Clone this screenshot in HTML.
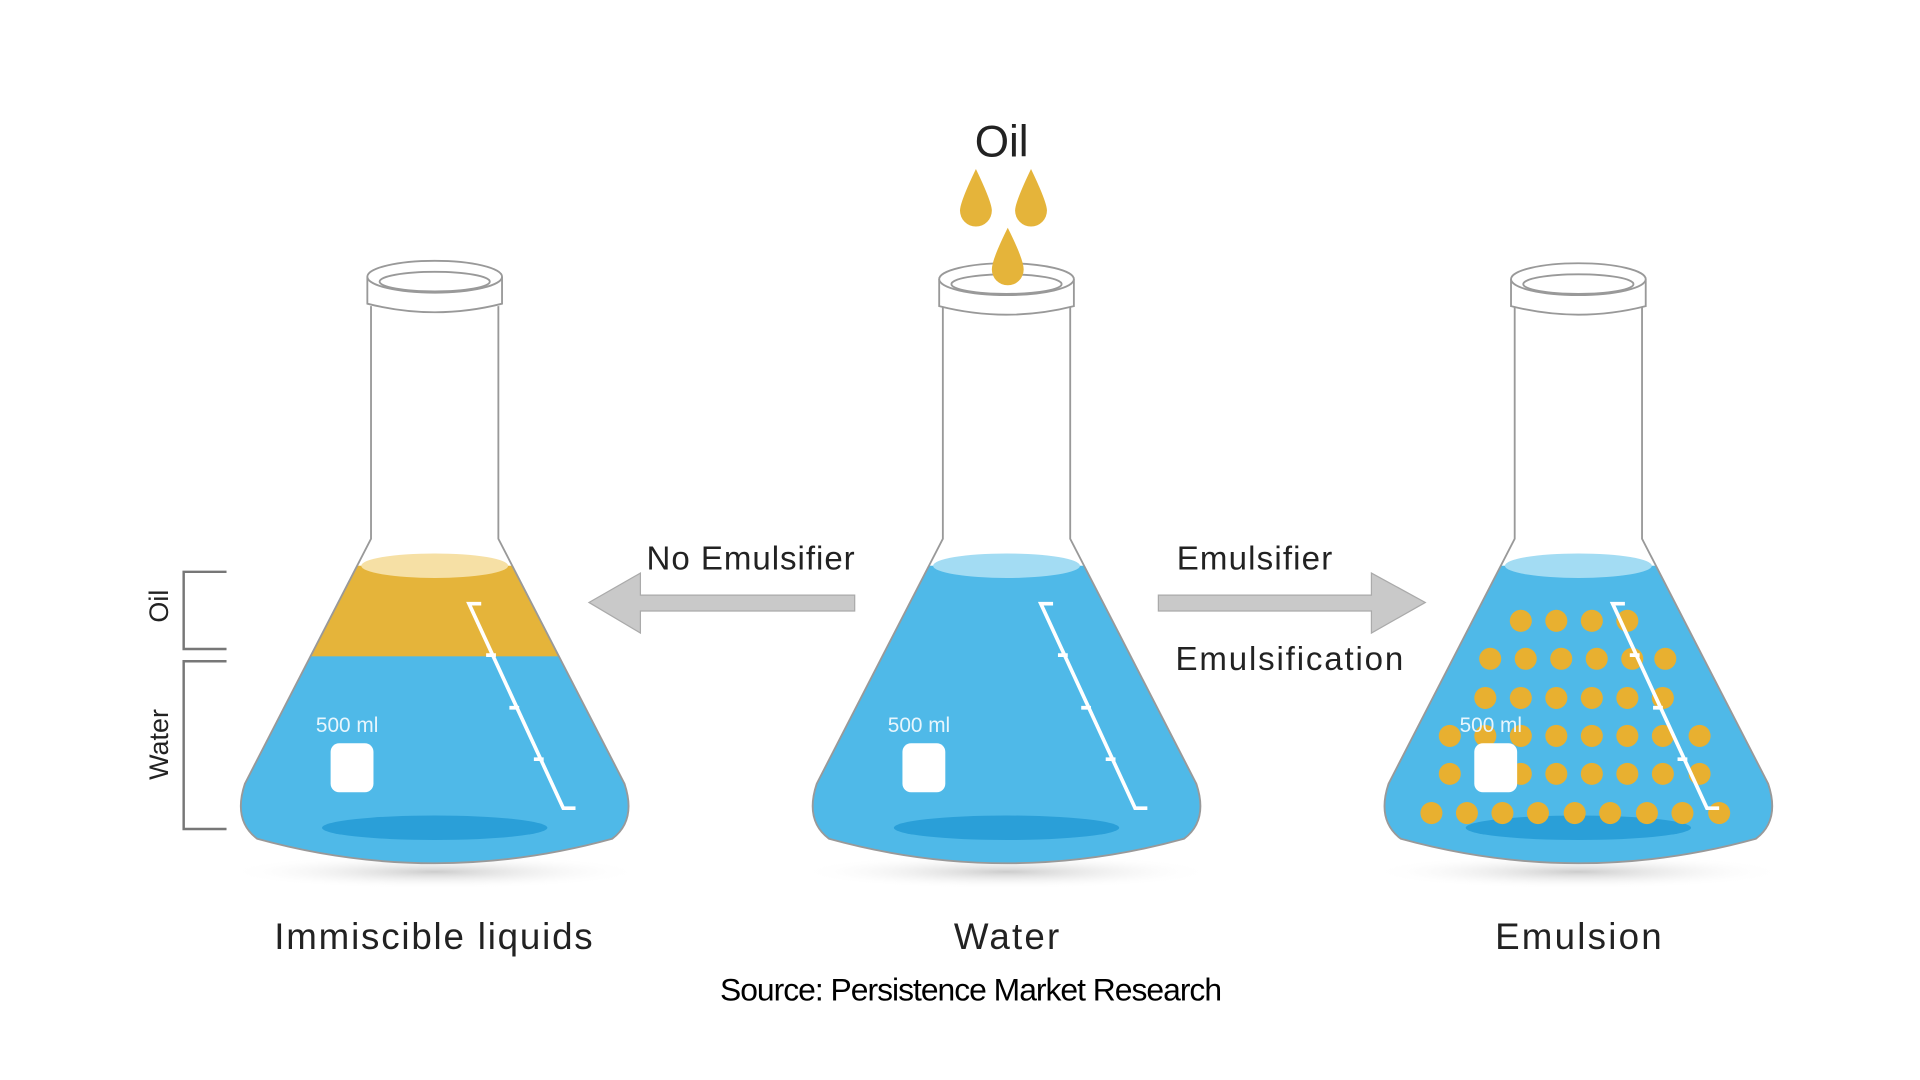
<!DOCTYPE html>
<html><head><meta charset="utf-8"><style>
html,body{margin:0;padding:0;background:#fff;width:1920px;height:1080px;overflow:hidden}
svg{display:block}
text{font-family:"Liberation Sans",sans-serif;fill:#222}
</style></head><body>
<svg width="1920" height="1080" viewBox="0 0 1568 882" preserveAspectRatio="none">
<defs>
<radialGradient id="sh" cx="50%" cy="50%" r="50%"><stop offset="0" stop-color="#ccc"/><stop offset="1" stop-color="#fff" stop-opacity="0"/></radialGradient>
<clipPath id="c1"><path d="M303,440 L200,640 Q190,670 210,685 Q355,725 500,685 Q520,670 510,640 L407,440 Z"/></clipPath>
<clipPath id="c2"><path d="M770,440 L667,640 Q657,670 677,685 Q822,725 967,685 Q987,670 977,640 L874,440 Z"/></clipPath>
<clipPath id="c3"><path d="M1237,440 L1134,640 Q1124,670 1144,685 Q1289,725 1434,685 Q1454,670 1444,640 L1341,440 Z"/></clipPath>
</defs>

<ellipse cx="355" cy="712" rx="170" ry="14" fill="url(#sh)"/>
<ellipse cx="822" cy="712" rx="170" ry="14" fill="url(#sh)"/>
<ellipse cx="1289" cy="712" rx="170" ry="14" fill="url(#sh)"/>

<!-- Flask 1 -->
<g clip-path="url(#c1)">
<rect x="150" y="462" width="420" height="75" fill="#e5b43a"/>
<rect x="150" y="536" width="420" height="200" fill="#4fb9e8"/>
<ellipse cx="355" cy="676" rx="92" ry="10" fill="#2a9fd8"/>
</g>
<ellipse cx="355" cy="462" rx="60" ry="10" fill="#f6e0a5"/>
<path d="M303,250 L303,440 L200,640 Q190,670 210,685 Q355,725 500,685 Q520,670 510,640 L407,440 L407,250" fill="none" stroke="#999" stroke-width="1.5"/>
<path d="M300,226 L300,248 Q355,262 410,248 L410,226" fill="#fff" stroke="#999" stroke-width="1.5"/>
<ellipse cx="355" cy="226" rx="55" ry="13" fill="#fff" stroke="#999" stroke-width="1.5"/>
<ellipse cx="355" cy="230" rx="45" ry="8" fill="none" stroke="#999" stroke-width="1.5"/>
<path d="M393,493 L383,493 L460,660 L470,660 M397,535 L405,535 M416,578 L424,578 M436,620 L444,620" fill="none" stroke="#fff" stroke-width="3"/>
<text x="258" y="598" font-size="17" style="fill:#e8f6fd">500 ml</text>
<rect x="270" y="607" width="35" height="40" rx="7" fill="#fff"/>
<path d="M185,467 L150,467 L150,530 L185,530 M185,540 L150,540 L150,677 L185,677" fill="none" stroke="#777" stroke-width="2"/>
<text transform="translate(137,495) rotate(-90)" font-size="22" text-anchor="middle">Oil</text>
<text transform="translate(137,608) rotate(-90)" font-size="22" text-anchor="middle">Water</text>

<!-- Flask 2 -->
<g clip-path="url(#c2)">
<rect x="620" y="462" width="420" height="280" fill="#4fb9e8"/>
<ellipse cx="822" cy="676" rx="92" ry="10" fill="#2a9fd8"/>
</g>
<ellipse cx="822" cy="462" rx="60" ry="10" fill="#a3dcf3"/>
<path d="M770,250 L770,440 L667,640 Q657,670 677,685 Q822,725 967,685 Q987,670 977,640 L874,440 L874,250" fill="none" stroke="#999" stroke-width="1.5"/>
<path d="M767,228 L767,250 Q822,264 877,250 L877,228" fill="#fff" stroke="#999" stroke-width="1.5"/>
<ellipse cx="822" cy="228" rx="55" ry="13" fill="#fff" stroke="#999" stroke-width="1.5"/>
<ellipse cx="822" cy="232" rx="45" ry="8" fill="none" stroke="#999" stroke-width="1.5"/>
<path d="M860,493 L850,493 L927,660 L937,660 M864,535 L872,535 M883,578 L891,578 M903,620 L911,620" fill="none" stroke="#fff" stroke-width="3"/>
<text x="725" y="598" font-size="17" style="fill:#e8f6fd">500 ml</text>
<rect x="737" y="607" width="35" height="40" rx="7" fill="#fff"/>
<g fill="#e5b43a">
<path d="M797,138 Q784,165 784,172 A13,13 0 0 0 810,172 Q810,165 797,138Z"/>
<path d="M842,138 Q829,165 829,172 A13,13 0 0 0 855,172 Q855,165 842,138Z"/>
<path d="M823,186 Q810,212 810,220 A13,13 0 0 0 836,220 Q836,212 823,186Z"/>
</g>
<text x="818" y="128" font-size="36" text-anchor="middle">Oil</text>

<!-- Flask 3 -->
<g clip-path="url(#c3)">
<rect x="1090" y="462" width="420" height="280" fill="#4fb9e8"/>
<ellipse cx="1289" cy="676" rx="92" ry="10" fill="#2a9fd8"/>
</g>
<ellipse cx="1289" cy="462" rx="60" ry="10" fill="#a3dcf3"/>
<path d="M1237,250 L1237,440 L1134,640 Q1124,670 1144,685 Q1289,725 1434,685 Q1454,670 1444,640 L1341,440 L1341,250" fill="none" stroke="#999" stroke-width="1.5"/>
<path d="M1234,228 L1234,250 Q1289,264 1344,250 L1344,228" fill="#fff" stroke="#999" stroke-width="1.5"/>
<ellipse cx="1289" cy="228" rx="55" ry="13" fill="#fff" stroke="#999" stroke-width="1.5"/>
<ellipse cx="1289" cy="232" rx="45" ry="8" fill="none" stroke="#999" stroke-width="1.5"/>
<g fill="#e8b030">
<circle cx="1242" cy="507" r="9"/><circle cx="1271" cy="507" r="9"/><circle cx="1300" cy="507" r="9"/><circle cx="1329" cy="507" r="9"/>
<circle cx="1217" cy="538" r="9"/><circle cx="1246" cy="538" r="9"/><circle cx="1275" cy="538" r="9"/><circle cx="1304" cy="538" r="9"/><circle cx="1333" cy="538" r="9"/><circle cx="1360" cy="538" r="9"/>
<circle cx="1213" cy="570" r="9"/><circle cx="1242" cy="570" r="9"/><circle cx="1271" cy="570" r="9"/><circle cx="1300" cy="570" r="9"/><circle cx="1329" cy="570" r="9"/><circle cx="1358" cy="570" r="9"/>
<circle cx="1184" cy="601" r="9"/><circle cx="1213" cy="601" r="9"/><circle cx="1242" cy="601" r="9"/><circle cx="1271" cy="601" r="9"/><circle cx="1300" cy="601" r="9"/><circle cx="1329" cy="601" r="9"/><circle cx="1358" cy="601" r="9"/><circle cx="1388" cy="601" r="9"/>
<circle cx="1184" cy="632" r="9"/><circle cx="1242" cy="632" r="9"/><circle cx="1271" cy="632" r="9"/><circle cx="1300" cy="632" r="9"/><circle cx="1329" cy="632" r="9"/><circle cx="1358" cy="632" r="9"/><circle cx="1388" cy="632" r="9"/>
<circle cx="1169" cy="664" r="9"/><circle cx="1198" cy="664" r="9"/><circle cx="1227" cy="664" r="9"/><circle cx="1256" cy="664" r="9"/><circle cx="1286" cy="664" r="9"/><circle cx="1315" cy="664" r="9"/><circle cx="1345" cy="664" r="9"/><circle cx="1374" cy="664" r="9"/><circle cx="1404" cy="664" r="9"/>
</g>
<path d="M1327,493 L1317,493 L1394,660 L1404,660 M1331,535 L1339,535 M1350,578 L1358,578 M1370,620 L1378,620" fill="none" stroke="#fff" stroke-width="3"/>
<text x="1192" y="598" font-size="17" style="fill:#e8f6fd">500 ml</text>
<rect x="1204" y="607" width="35" height="40" rx="7" fill="#fff"/>

<path d="M698,486 L523,486 L523,468 L481,492 L523,517 L523,499 L698,499 Z" fill="#c9c9c9" stroke="#aaa" stroke-width="1"/>
<path d="M946,486 L1120,486 L1120,468 L1164,492 L1120,517 L1120,499 L946,499 Z" fill="#c9c9c9" stroke="#aaa" stroke-width="1"/>

<text x="528" y="465" font-size="27" textLength="170">No Emulsifier</text>
<text x="961" y="465" font-size="27" textLength="127">Emulsifier</text>
<text x="960" y="547" font-size="27" textLength="186">Emulsification</text>

<text x="224" y="775" font-size="30" textLength="260">Immiscible liquids</text>
<text x="779" y="775" font-size="30" textLength="86">Water</text>
<text x="1221" y="775" font-size="30" textLength="136">Emulsion</text>
<text x="793" y="817" font-size="26" text-anchor="middle" style="fill:#000" textLength="410">Source: Persistence Market Research</text>
</svg>
</body></html>
